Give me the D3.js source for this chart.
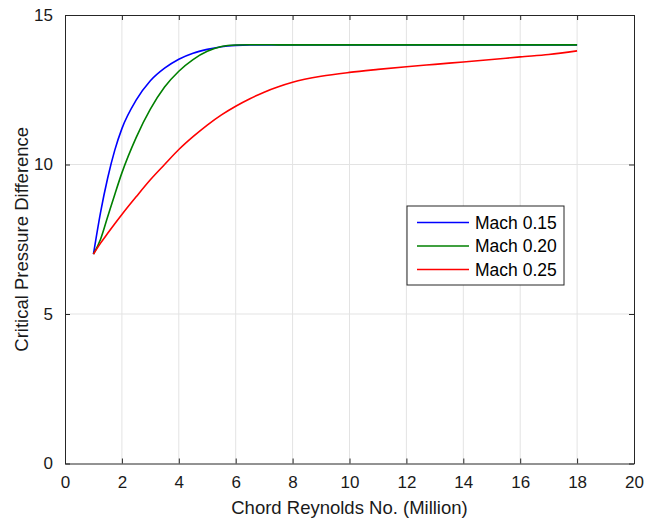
<!DOCTYPE html>
<html>
<head>
<meta charset="utf-8">
<script src="https://cdn.jsdelivr.net/npm/d3@7"></script>
<style>
  html, body { margin: 0; padding: 0; background: #fff; }
  svg { display: block; font-family: "Liberation Sans", Arial, sans-serif; }
</style>
</head>
<body>
<svg id="chart" width="656" height="521"></svg>
<script>
// Chord Reynolds number (millions) at which each curve is sampled
const reynolds = [1, 1.25, 1.5, 1.75, 2, 2.5, 3, 3.5, 4, 4.5, 5, 5.5, 6, 6.5, 7, 7.5, 8, 9, 10, 11, 12, 13, 14, 15, 16, 17, 18];

// Critical pressure difference for each Mach number
const mach015 = [7, 8.4, 9.55, 10.48, 11.2, 12.15, 12.8, 13.22, 13.52, 13.72, 13.85, 13.94, 13.985, 14.0, 14.0, 14.0, 14.0, 14.0, 14.0, 14.0, 14.0, 14.0, 14.0, 14.0, 14.0, 14.0, 14.0];
const mach020 = [7, 7.5, 8.25, 9.0, 9.72, 10.9, 11.85, 12.59, 13.12, 13.51, 13.785, 13.945, 13.995, 14.005, 14.005, 14.0, 14.0, 14.0, 14.0, 14.0, 14.0, 14.0, 14.0, 14.0, 14.0, 14.0, 14.0];
const mach025 = [7, 7.37, 7.7, 8.02, 8.33, 8.92, 9.49, 10.0, 10.5, 10.93, 11.32, 11.66, 11.95, 12.2, 12.42, 12.6, 12.75, 12.95, 13.08, 13.18, 13.27, 13.35, 13.43, 13.51, 13.6, 13.68, 13.8];

const seriesNames = ["Mach 0.15", "Mach 0.20", "Mach 0.25"];
const seriesColors = ["#0000ff", "#008000", "#ff0000"];
const seriesValues = [mach015, mach020, mach025];

const xTicks = [0, 2, 4, 6, 8, 10, 12, 14, 16, 18, 20];
const yTicks = [0, 5, 10, 15];

const svg = d3.select("#chart");
const plotLeft = 65, plotRight = 634, plotTop = 15, plotBottom = 463.5;

const x = d3.scaleLinear().domain([0, 20]).range([plotLeft, plotRight]);
const y = d3.scaleLinear().domain([0, 15]).range([plotBottom, plotTop]);

const axisColor = "#262626";
const gridColor = "#e3e3e3";

// grid
const grid = svg.append("g");
grid.selectAll("line.vx").data(xTicks.slice(1, -1)).join("line")
  .attr("x1", d => x(d)).attr("x2", d => x(d))
  .attr("y1", plotTop).attr("y2", plotBottom)
  .attr("stroke", gridColor).attr("stroke-width", 1);
grid.selectAll("line.hy").data(yTicks.slice(1, -1)).join("line")
  .attr("x1", plotLeft).attr("x2", plotRight)
  .attr("y1", d => y(d)).attr("y2", d => y(d))
  .attr("stroke", gridColor).attr("stroke-width", 1);

// curves
const line = d3.line()
  .x(d => x(d[0]))
  .y(d => y(d[1]))
  .curve(d3.curveMonotoneX);

seriesValues.forEach((vals, i) => {
  svg.append("path")
    .datum(reynolds.map((r, j) => [r, vals[j]]))
    .attr("d", line)
    .attr("fill", "none")
    .attr("stroke", seriesColors[i])
    .attr("stroke-width", 1.6)
    .attr("stroke-linejoin", "round");
});

// axes (ticks point inward, box drawn on all four sides)
const tickLen = 5;
const axisBottom = d3.axisBottom(x).tickValues(xTicks).tickSizeInner(-tickLen).tickSizeOuter(0).tickPadding(12);
const axisLeft = d3.axisLeft(y).tickValues(yTicks).tickSizeInner(-tickLen).tickSizeOuter(0).tickPadding(12);
const axisTop = d3.axisTop(x).tickValues(xTicks).tickSizeInner(-tickLen).tickSizeOuter(0).tickFormat("");
const axisRight = d3.axisRight(y).tickValues(yTicks).tickSizeInner(-tickLen).tickSizeOuter(0).tickFormat("");

function styleAxis(g) {
  g.selectAll("path").attr("stroke", axisColor).attr("stroke-width", 1);
  g.selectAll("line").attr("stroke", axisColor).attr("stroke-width", 1);
  g.selectAll("text").attr("fill", "#1a1a1a").style("font-size", "17px")
    .style("font-family", "'Liberation Sans', Arial, sans-serif");
}

svg.append("g").attr("transform", `translate(0,${plotBottom})`).call(axisBottom).call(styleAxis);
svg.append("g").attr("transform", `translate(${plotLeft},0)`).call(axisLeft).call(styleAxis);
svg.append("g").attr("transform", `translate(0,${plotTop})`).call(axisTop).call(styleAxis);
svg.append("g").attr("transform", `translate(${plotRight},0)`).call(axisRight).call(styleAxis);

// axis titles
svg.append("text")
  .attr("x", (plotLeft + plotRight) / 2).attr("y", 514)
  .attr("text-anchor", "middle")
  .attr("fill", "#1a1a1a")
  .style("font-size", "18.5px")
  .text("Chord Reynolds No. (Million)");

svg.append("text")
  .attr("transform", `translate(28,${(plotTop + plotBottom) / 2}) rotate(-90)`)
  .attr("text-anchor", "middle")
  .attr("fill", "#1a1a1a")
  .style("font-size", "18.5px")
  .text("Critical Pressure Difference");

// legend
const lg = svg.append("g").attr("transform", "translate(407,206)");
lg.append("rect").attr("width", 157).attr("height", 79)
  .attr("fill", "#fff").attr("stroke", axisColor).attr("stroke-width", 1);
seriesNames.forEach((name, i) => {
  const cy = 16.5 + i * 23.5;
  lg.append("line").attr("x1", 10).attr("x2", 62).attr("y1", cy).attr("y2", cy)
    .attr("stroke", seriesColors[i]).attr("stroke-width", 1.6);
  lg.append("text").attr("x", 68).attr("y", cy).attr("dy", "0.35em")
    .attr("fill", "#000").style("font-size", "17.5px").text(name);
});
</script>
</body>
</html>
